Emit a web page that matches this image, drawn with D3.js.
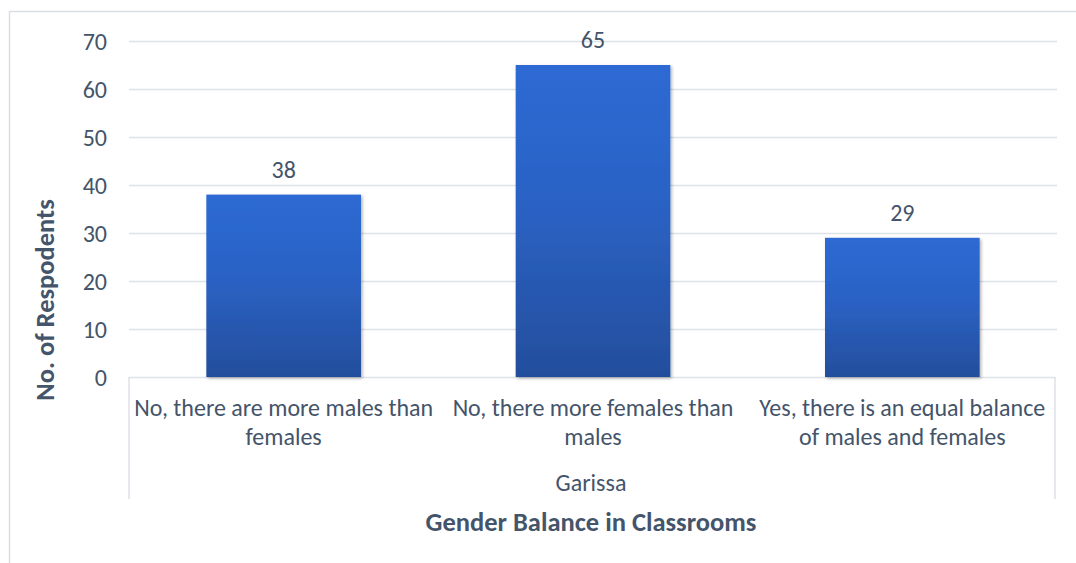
<!DOCTYPE html>
<html>
<head>
<meta charset="utf-8">
<script src="https://cdn.jsdelivr.net/npm/d3@7"></script>
<style>
  html, body { margin: 0; padding: 0; background: #fff; }
  svg { display: block; }
  text { font-family: Calibri, Carlito, "Liberation Sans", sans-serif; fill: #44546A; }
</style>
</head>
<body>
<svg id="chart" width="1076" height="563"></svg>
<script>
// Survey responses on gender balance in Garissa classrooms
const categories = [
  ["No, there are more males than", "females"],
  ["No, there more females than", "males"],
  ["Yes, there is an equal balance", "of males and females"]
];
const values = [38, 65, 29];
const yTicks = [0, 10, 20, 30, 40, 50, 60, 70];
const groupLabel = "Garissa";
const xTitle = "Gender Balance in Classrooms";
const yTitle = "No. of Respodents";

const svg = d3.select("#chart");
const W = 1076, H = 563;
const plot = { left: 129, right: 1057, top: 41, bottom: 377 };
const labelSize = "24px";
const titleSize = "26.5px";

// Chart frame (only its top and left edges fall inside the canvas)
svg.append("path")
  .attr("d", `M9.5,${H} V11.5 H${W}`)
  .attr("fill", "none")
  .attr("stroke", "#D9DEE5")
  .attr("stroke-width", 1.5);

const x = d3.scaleBand()
  .domain(d3.range(categories.length))
  .range([plot.left, plot.right])
  .paddingInner(0.5)
  .paddingOuter(0.25);

const y = d3.scaleLinear()
  .domain([0, 70])
  .range([plot.bottom, plot.top]);

const defs = svg.append("defs");
const grad = defs.append("linearGradient")
  .attr("id", "barFill")
  .attr("x1", 0).attr("y1", 0).attr("x2", 0).attr("y2", 1);
grad.append("stop").attr("offset", "0%").attr("stop-color", "#2D6AD4");
grad.append("stop").attr("offset", "45%").attr("stop-color", "#2B62C4");
grad.append("stop").attr("offset", "100%").attr("stop-color", "#234E9C");

const shadow = defs.append("filter")
  .attr("id", "barShadow")
  .attr("x", "-10%").attr("y", "-10%").attr("width", "130%").attr("height", "130%");
shadow.append("feDropShadow")
  .attr("dx", 1.5).attr("dy", 1.5).attr("stdDeviation", 1.5)
  .attr("flood-color", "#000").attr("flood-opacity", 0.3);

// Horizontal gridlines and y tick labels
const yAxis = d3.axisLeft(y)
  .tickValues(yTicks)
  .tickSize(-(plot.right - plot.left))
  .tickPadding(0)
  .tickFormat(d3.format("d"));

const gy = svg.append("g")
  .attr("transform", `translate(${plot.left},0)`)
  .call(yAxis);
gy.attr("font-family", null).attr("font-size", null);
gy.select(".domain").remove();
gy.selectAll(".tick line")
  .attr("stroke", "#DDE1E8")
  .attr("stroke-width", 1.5);
gy.selectAll(".tick text")
  .attr("x", -22)
  .attr("dy", "0.35em")
  .attr("text-anchor", "end")
  .style("font-size", labelSize)
  .style("fill", "#44546A");
gy.selectAll(".tick").filter(d => d === 0).select("line").remove();

// Category axis box below the plot
svg.append("path")
  .attr("d", `M${plot.left},499 V${plot.bottom + 0.5} H${plot.right - 2} V499`)
  .attr("fill", "none")
  .attr("stroke", "#DDE1E8")
  .attr("stroke-width", 1.5);

// Bars
svg.append("g").selectAll("rect")
  .data(values)
  .join("rect")
  .attr("x", (d, i) => x(i))
  .attr("y", d => y(d))
  .attr("width", x.bandwidth())
  .attr("height", d => y(0) - y(d))
  .attr("fill", "url(#barFill)")
  .attr("filter", "url(#barShadow)");

// Value labels
svg.append("g").selectAll("text")
  .data(values)
  .join("text")
  .attr("x", (d, i) => x(i) + x.bandwidth() / 2)
  .attr("y", d => y(d) - 17)
  .attr("text-anchor", "middle")
  .style("font-size", labelSize)
  .text(d => d);

// Category labels (two lines each)
const cat = svg.append("g").selectAll("text")
  .data(categories)
  .join("text")
  .attr("text-anchor", "middle")
  .style("font-size", labelSize);
cat.each(function(lines, i) {
  const cx = x(i) + x.bandwidth() / 2;
  d3.select(this).selectAll("tspan")
    .data(lines)
    .join("tspan")
    .attr("x", cx)
    .attr("y", (d, j) => 416 + j * 29)
    .text(d => d);
});

// Group label
svg.append("text")
  .attr("x", (plot.left + plot.right) / 2 - 2)
  .attr("y", 491)
  .attr("text-anchor", "middle")
  .style("font-size", labelSize)
  .text(groupLabel);

// Axis titles
svg.append("text")
  .attr("x", (plot.left + plot.right) / 2 - 2)
  .attr("y", 531)
  .attr("text-anchor", "middle")
  .style("font-size", titleSize)
  .style("font-weight", "bold")
  .text(xTitle);

svg.append("text")
  .attr("transform", `translate(54,300) rotate(-90)`)
  .attr("text-anchor", "middle")
  .style("font-size", titleSize)
  .style("font-weight", "bold")
  .text(yTitle);
</script>
</body>
</html>
